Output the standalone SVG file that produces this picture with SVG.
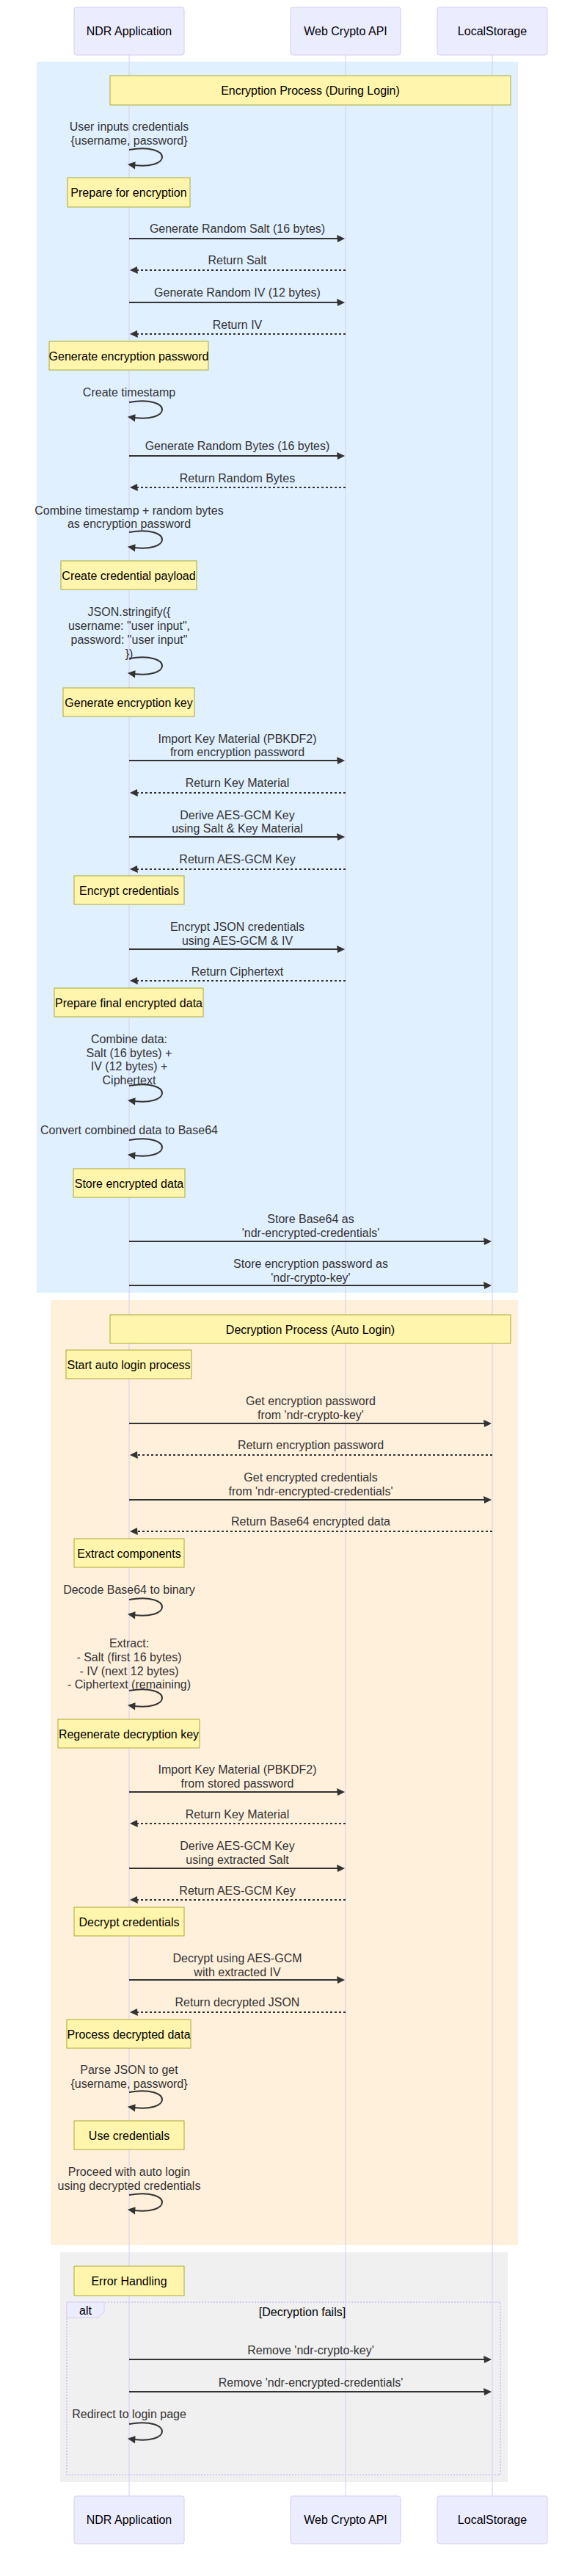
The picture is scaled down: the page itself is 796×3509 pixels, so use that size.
<svg xmlns="http://www.w3.org/2000/svg" width="796" height="3509" viewBox="0 0 796 3509">
<style>
text{font-family:"Liberation Sans",Arial,sans-serif;font-size:16px;text-anchor:middle;dominant-baseline:central}
.actor{fill:#ECECFF;stroke:#d6cbf2;stroke-width:1}
.atext{fill:#000}
.life{stroke:#d6cbf2;stroke-width:1}
.note{fill:#fff5ad;stroke:#aaaa33;stroke-width:1}
.ntext{fill:#000}
.mtext{fill:#333}
.sol{stroke:#333;stroke-width:2;fill:none;marker-end:url(#ah)}
.dash{stroke:#333;stroke-width:2;fill:none;stroke-dasharray:3,3;marker-end:url(#ah)}
.loop{stroke:#333;stroke-width:2;fill:none;marker-end:url(#ah)}
.frame{fill:none;stroke:#d6cbf2;stroke-width:2;stroke-dasharray:2,2}
.lbox{fill:#ECECFF;stroke:#d6cbf2;stroke-width:1}
</style>
<defs>
<marker id="ah" refX="7.9" refY="5" markerUnits="userSpaceOnUse" markerWidth="12" markerHeight="12" orient="auto-start-reverse" style="overflow:visible"><path d="M -1 0 L 10 5 L 0 10 z" fill="#333"/></marker>
</defs>
<rect width="796" height="3509" fill="#fff"/>
<g id="regions">
<rect x="50" y="84" width="656" height="1677" fill="rgb(224,240,255)"/>
<rect x="69" y="1771" width="637" height="1287" fill="rgb(255,240,220)"/>
<rect x="82" y="3068" width="610" height="313" fill="rgb(240,240,240)"/>
</g>
<g id="lifelines">
<line class="life" x1="176" y1="75" x2="176" y2="3400"/>
<line class="life" x1="471" y1="75" x2="471" y2="3400"/>
<line class="life" x1="671" y1="75" x2="671" y2="3400"/>
</g>
<g id="actor-ndr-top"><rect class="actor" x="101" y="10" width="150" height="65" rx="3"/><text class="atext" x="176" y="42.5">NDR Application</text></g>
<g id="actor-crypto-top"><rect class="actor" x="396" y="10" width="150" height="65" rx="3"/><text class="atext" x="471" y="42.5">Web Crypto API</text></g>
<g id="actor-storage-top"><rect class="actor" x="596" y="10" width="150" height="65" rx="3"/><text class="atext" x="671" y="42.5">LocalStorage</text></g>
<g id="actor-ndr-bottom"><rect class="actor" x="101" y="3400" width="150" height="65" rx="3"/><text class="atext" x="176" y="3432.5">NDR Application</text></g>
<g id="actor-crypto-bottom"><rect class="actor" x="396" y="3400" width="150" height="65" rx="3"/><text class="atext" x="471" y="3432.5">Web Crypto API</text></g>
<g id="actor-storage-bottom"><rect class="actor" x="596" y="3400" width="150" height="65" rx="3"/><text class="atext" x="671" y="3432.5">LocalStorage</text></g>

<g id="note-enc-title"><rect class="note" x="150" y="103" width="546" height="40"/><text class="ntext" x="423" y="123">Encryption Process (During Login)</text></g>
<g id="note-prepare"><rect class="note" x="92" y="242" width="167" height="40"/><text class="ntext" x="175.5" y="262">Prepare for encryption</text></g>
<g id="note-genpw"><rect class="note" x="67" y="465" width="217" height="39"/><text class="ntext" x="175.5" y="485">Generate encryption password</text></g>
<g id="note-payload"><rect class="note" x="83" y="764" width="185" height="39"/><text class="ntext" x="175.5" y="784">Create credential payload</text></g>
<g id="note-genkey"><rect class="note" x="86" y="937" width="179" height="39"/><text class="ntext" x="175.5" y="957">Generate encryption key</text></g>
<g id="note-encrypt"><rect class="note" x="101" y="1193" width="150" height="39"/><text class="ntext" x="176" y="1213">Encrypt credentials</text></g>
<g id="note-final"><rect class="note" x="74" y="1346" width="203" height="39"/><text class="ntext" x="175.5" y="1366">Prepare final encrypted data</text></g>
<g id="note-store"><rect class="note" x="100" y="1592" width="152" height="39"/><text class="ntext" x="176" y="1612">Store encrypted data</text></g>
<g id="note-dec-title"><rect class="note" x="150" y="1791" width="546" height="39"/><text class="ntext" x="423" y="1811">Decryption Process (Auto Login)</text></g>
<g id="note-start"><rect class="note" x="90" y="1839" width="171" height="39"/><text class="ntext" x="175.5" y="1859">Start auto login process</text></g>
<g id="note-extract"><rect class="note" x="101" y="2096" width="150" height="39"/><text class="ntext" x="176" y="2116">Extract components</text></g>
<g id="note-regen"><rect class="note" x="79" y="2342" width="193" height="39"/><text class="ntext" x="175.5" y="2362">Regenerate decryption key</text></g>
<g id="note-decrypt"><rect class="note" x="101" y="2598" width="150" height="39"/><text class="ntext" x="176" y="2618">Decrypt credentials</text></g>
<g id="note-process"><rect class="note" x="91" y="2751" width="169" height="39"/><text class="ntext" x="175.5" y="2771">Process decrypted data</text></g>
<g id="note-use"><rect class="note" x="101" y="2889" width="150" height="39"/><text class="ntext" x="176" y="2909">Use credentials</text></g>
<g id="note-error"><rect class="note" x="101" y="3087" width="150" height="40"/><text class="ntext" x="176" y="3107">Error Handling</text></g>

<g id="alt-frame">
<rect class="frame" x="91" y="3136" width="591" height="235"/>
<polygon class="lbox" points="91,3136 142,3136 142,3149 134,3157 91,3157"/>
<text class="ntext" x="116.5" y="3147">alt</text>
<text class="ntext" x="412" y="3149">[Decryption fails]</text>
</g>

<g id="connectors">
<text class="mtext" x="176" y="172">User inputs credentials</text>
<text class="mtext" x="176" y="191">{username, password}</text>
<path class="loop" d="M176,204 C236,194 236,234 176,224"/>

<text class="mtext" x="323.5" y="311">Generate Random Salt (16 bytes)</text>
<line class="sol" x1="176" y1="325" x2="468" y2="325"/>
<text class="mtext" x="323.5" y="354">Return Salt</text>
<line class="dash" x1="471" y1="368" x2="179" y2="368"/>
<text class="mtext" x="323.5" y="398">Generate Random IV (12 bytes)</text>
<line class="sol" x1="176" y1="412" x2="468" y2="412"/>
<text class="mtext" x="323.5" y="442">Return IV</text>
<line class="dash" x1="471" y1="455" x2="179" y2="455"/>

<text class="mtext" x="176" y="534">Create timestamp</text>
<path class="loop" d="M176,548 C236,538 236,578 176,568"/>

<text class="mtext" x="323.5" y="607">Generate Random Bytes (16 bytes)</text>
<line class="sol" x1="176" y1="621" x2="468" y2="621"/>
<text class="mtext" x="323.5" y="651">Return Random Bytes</text>
<line class="dash" x1="471" y1="664" x2="179" y2="664"/>

<text class="mtext" x="176" y="695">Combine timestamp + random bytes</text>
<text class="mtext" x="176" y="713">as encryption password</text>
<path class="loop" d="M176,725 C236,715 236,755 176,745"/>

<text class="mtext" x="176" y="833">JSON.stringify({</text>
<text class="mtext" x="176" y="852">username: "user input",</text>
<text class="mtext" x="176" y="871">password: "user input"</text>
<text class="mtext" x="176" y="890">})</text>
<path class="loop" d="M176,897 C236,887 236,927 176,917"/>

<text class="mtext" x="323.5" y="1006">Import Key Material (PBKDF2)</text>
<text class="mtext" x="323.5" y="1024">from encryption password</text>
<line class="sol" x1="176" y1="1036" x2="468" y2="1036"/>
<text class="mtext" x="323.5" y="1066">Return Key Material</text>
<line class="dash" x1="471" y1="1080" x2="179" y2="1080"/>
<text class="mtext" x="323.5" y="1110">Derive AES-GCM Key</text>
<text class="mtext" x="323.5" y="1128">using Salt &amp; Key Material</text>
<line class="sol" x1="176" y1="1140" x2="468" y2="1140"/>
<text class="mtext" x="323.5" y="1170">Return AES-GCM Key</text>
<line class="dash" x1="471" y1="1184" x2="179" y2="1184"/>

<text class="mtext" x="323.5" y="1262">Encrypt JSON credentials</text>
<text class="mtext" x="323.5" y="1281">using AES-GCM &amp; IV</text>
<line class="sol" x1="176" y1="1293" x2="468" y2="1293"/>
<text class="mtext" x="323.5" y="1323">Return Ciphertext</text>
<line class="dash" x1="471" y1="1336" x2="179" y2="1336"/>

<text class="mtext" x="176" y="1415">Combine data:</text>
<text class="mtext" x="176" y="1434">Salt (16 bytes) +</text>
<text class="mtext" x="176" y="1452">IV (12 bytes) +</text>
<text class="mtext" x="176" y="1471">Ciphertext</text>
<path class="loop" d="M176,1479 C236,1469 236,1509 176,1499"/>

<text class="mtext" x="176" y="1539">Convert combined data to Base64</text>
<path class="loop" d="M176,1553 C236,1543 236,1583 176,1573"/>

<text class="mtext" x="423.5" y="1660">Store Base64 as</text>
<text class="mtext" x="423.5" y="1679">'ndr-encrypted-credentials'</text>
<line class="sol" x1="176" y1="1691" x2="668" y2="1691"/>
<text class="mtext" x="423.5" y="1721">Store encryption password as</text>
<text class="mtext" x="423.5" y="1740">'ndr-crypto-key'</text>
<line class="sol" x1="176" y1="1751" x2="668" y2="1751"/>

<text class="mtext" x="423.5" y="1908">Get encryption password</text>
<text class="mtext" x="423.5" y="1927">from 'ndr-crypto-key'</text>
<line class="sol" x1="176" y1="1939" x2="668" y2="1939"/>
<text class="mtext" x="423.5" y="1968">Return encryption password</text>
<line class="dash" x1="671" y1="1982" x2="179" y2="1982"/>
<text class="mtext" x="423.5" y="2012">Get encrypted credentials</text>
<text class="mtext" x="423.5" y="2031">from 'ndr-encrypted-credentials'</text>
<line class="sol" x1="176" y1="2043" x2="668" y2="2043"/>
<text class="mtext" x="423.5" y="2072">Return Base64 encrypted data</text>
<line class="dash" x1="671" y1="2086" x2="179" y2="2086"/>

<text class="mtext" x="176" y="2165">Decode Base64 to binary</text>
<path class="loop" d="M176,2179 C236,2169 236,2209 176,2199"/>

<text class="mtext" x="176" y="2238">Extract:</text>
<text class="mtext" x="176" y="2257">- Salt (first 16 bytes)</text>
<text class="mtext" x="176" y="2276">- IV (next 12 bytes)</text>
<text class="mtext" x="176" y="2294">- Ciphertext (remaining)</text>
<path class="loop" d="M176,2303 C236,2293 236,2333 176,2323"/>

<text class="mtext" x="323.5" y="2410">Import Key Material (PBKDF2)</text>
<text class="mtext" x="323.5" y="2429">from stored password</text>
<line class="sol" x1="176" y1="2441" x2="468" y2="2441"/>
<text class="mtext" x="323.5" y="2471">Return Key Material</text>
<line class="dash" x1="471" y1="2484" x2="179" y2="2484"/>
<text class="mtext" x="323.5" y="2514">Derive AES-GCM Key</text>
<text class="mtext" x="323.5" y="2533">using extracted Salt</text>
<line class="sol" x1="176" y1="2545" x2="468" y2="2545"/>
<text class="mtext" x="323.5" y="2575">Return AES-GCM Key</text>
<line class="dash" x1="471" y1="2588" x2="179" y2="2588"/>

<text class="mtext" x="323.5" y="2667">Decrypt using AES-GCM</text>
<text class="mtext" x="323.5" y="2686">with extracted IV</text>
<line class="sol" x1="176" y1="2697" x2="468" y2="2697"/>
<text class="mtext" x="323.5" y="2727">Return decrypted JSON</text>
<line class="dash" x1="471" y1="2741" x2="179" y2="2741"/>

<text class="mtext" x="176" y="2819">Parse JSON to get</text>
<text class="mtext" x="176" y="2838">{username, password}</text>
<path class="loop" d="M176,2850 C236,2840 236,2880 176,2870"/>

<text class="mtext" x="176" y="2958">Proceed with auto login</text>
<text class="mtext" x="176" y="2977">using decrypted credentials</text>
<path class="loop" d="M176,2990 C236,2980 236,3020 176,3010"/>

<text class="mtext" x="423.5" y="3201">Remove 'ndr-crypto-key'</text>
<line class="sol" x1="176" y1="3214" x2="668" y2="3214"/>
<text class="mtext" x="423.5" y="3245">Remove 'ndr-encrypted-credentials'</text>
<line class="sol" x1="176" y1="3258" x2="668" y2="3258"/>

<text class="mtext" x="176" y="3288">Redirect to login page</text>
<path class="loop" d="M176,3302 C236,3292 236,3332 176,3322"/>
</g>
</svg>
